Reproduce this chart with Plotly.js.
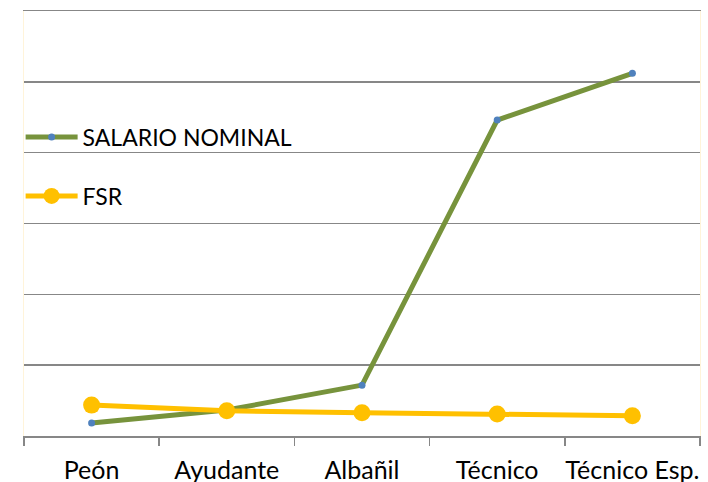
<!DOCTYPE html>
<html>
<head>
<meta charset="utf-8">
<script src="https://cdn.plot.ly/plotly-3.0.1.min.js"></script>
<style>html,body{margin:0;padding:0;background:#fff;}#chart{width:708px;height:482px;}</style>
</head>
<body>
<div id="chart"></div>
<script>
var categories = ["Peón", "Ayudante", "Albañil", "Técnico", "Técnico Esp."];
var salarioNominal = [9.2, 18.3, 35.9, 223, 256];
var fsr = [21.8, 17.8, 16.4, 15.5, 14.3];

var font = "Lato, Carlito, Calibri, sans-serif";

var traces = [
  {
    x: categories, y: salarioNominal, name: "SALARIO NOMINAL",
    type: "scatter", mode: "lines+markers",
    line: {color: "#77933C", width: 5},
    marker: {color: "#4F81BD", size: 7},
    legend: "legend"
  },
  {
    x: categories, y: fsr, name: "FSR",
    type: "scatter", mode: "lines+markers",
    line: {color: "#FFC000", width: 5},
    marker: {color: "#FFC000", size: 17},
    legend: "legend2"
  }
];

var layout = {
  width: 708, height: 482,
  margin: {l: 24, r: 8, t: 11, b: 46},
  paper_bgcolor: "#ffffff", plot_bgcolor: "#ffffff",
  font: {family: font, size: 23, color: "#000"},
  showlegend: true,
  legend: {x: -0.005, xanchor: "left", y: 0.7035, yanchor: "middle", itemwidth: 52,
           bgcolor: "rgba(0,0,0,0)", font: {family: font, size: 23, color: "#000"}},
  legend2: {x: -0.005, xanchor: "left", y: 0.5647, yanchor: "middle", itemwidth: 52,
            bgcolor: "rgba(0,0,0,0)", font: {family: font, size: 23, color: "#000"}},
  xaxis: {
    type: "category",
    range: [-0.5, 4.5], autorange: false,
    showgrid: false,
    showline: true, linecolor: "#878787", linewidth: 1.5,
    mirror: true,
    ticks: "outside", tickson: "boundaries", ticklen: 8, tickcolor: "#878787", tickwidth: 1.5,
    ticklabelstandoff: 11,
    tickangle: 0,
    automargin: false,
    tickfont: {family: font, size: 25, color: "#000"},
    zeroline: false
  },
  yaxis: {
    range: [0, 300], dtick: 50, tick0: 0, autorange: false,
    showticklabels: false, ticks: "",
    showgrid: true, gridcolor: "#878787", gridwidth: 1.5,
    showline: true, linecolor: "#FFF4DA", linewidth: 1, mirror: true,
    zeroline: false
  }
};

Plotly.newPlot("chart", traces, layout, {displayModeBar: false, staticPlot: true});
</script>
</body>
</html>
